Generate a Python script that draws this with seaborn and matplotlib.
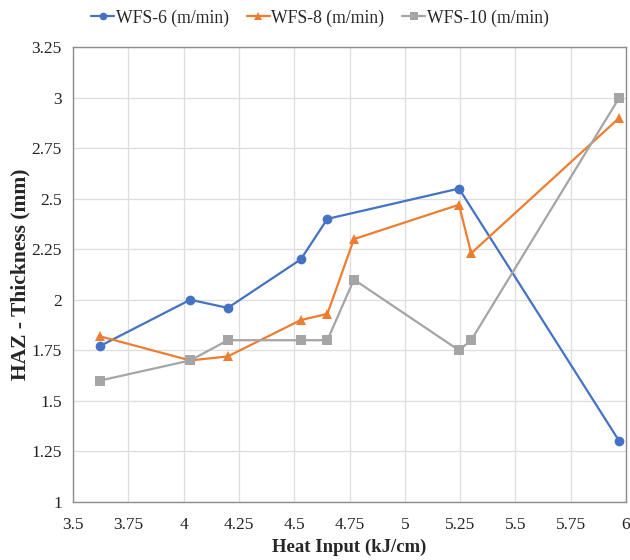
import matplotlib
matplotlib.use("Agg")
import matplotlib.pyplot as plt
import seaborn as sns
import pandas as pd

heat_6 = [3.62, 4.03, 4.20, 4.53, 4.65, 5.245, 5.97]
haz_6 = [1.77, 2.00, 1.96, 2.20, 2.40, 2.55, 1.30]
heat_8 = [3.62, 4.03, 4.20, 4.53, 4.65, 4.77, 5.245, 5.30, 5.97]
haz_8 = [1.82, 1.70, 1.72, 1.90, 1.93, 2.30, 2.47, 2.23, 2.90]
heat_10 = [3.62, 4.03, 4.20, 4.53, 4.65, 4.77, 5.245, 5.30, 5.97]
haz_10 = [1.60, 1.70, 1.80, 1.80, 1.80, 2.10, 1.75, 1.80, 3.00]
series_names = ["WFS-6 (m/min)", "WFS-8 (m/min)", "WFS-10 (m/min)"]
x_ticks = [3.5, 3.75, 4, 4.25, 4.5, 4.75, 5, 5.25, 5.5, 5.75, 6]
x_tick_labels = ["3.5", "3.75", "4", "4.25", "4.5", "4.75", "5", "5.25", "5.5", "5.75", "6"]
y_ticks = [1, 1.25, 1.5, 1.75, 2, 2.25, 2.5, 2.75, 3, 3.25]
y_tick_labels = ["1", "1.25", "1.5", "1.75", "2", "2.25", "2.5", "2.75", "3", "3.25"]

rows = []
for name, xs, ys in zip(series_names, [heat_6, heat_8, heat_10], [haz_6, haz_8, haz_10]):
    for i, (xv, yv) in enumerate(zip(xs, ys)):
        rows.append({"series": name, "heat": xv, "haz": yv, "order": i})
df = pd.DataFrame(rows)

sns.set_theme(style="white")
plt.rcParams["font.family"] = ["Liberation Serif", "DejaVu Serif"]

colors = {"WFS-6 (m/min)": "#4472C4", "WFS-8 (m/min)": "#ED7D31", "WFS-10 (m/min)": "#A5A5A5"}
markers = {"WFS-6 (m/min)": "o", "WFS-8 (m/min)": "^", "WFS-10 (m/min)": "s"}

fig = plt.figure(figsize=(6.3, 5.6), dpi=100)
ax = fig.add_axes([73/630, 58/560, 553/630, 455/560])

sns.lineplot(data=df, x="heat", y="haz", hue="series", style="series",
             hue_order=series_names, style_order=series_names,
             palette=colors, markers=markers, dashes=False,
             sort=False, estimator=None, units="series",
             markersize=7, markeredgewidth=0, linewidth=1.6, ax=ax, legend="brief")

ax.set_xlim(3.5, 6)
ax.set_ylim(1, 3.25)
ax.set_xticks(x_ticks)
ax.set_xticklabels(x_tick_labels)
ax.set_yticks(y_ticks)
ax.set_yticklabels(y_tick_labels)
ax.grid(True, color="#DDDDDD", linewidth=0.9)
ax.tick_params(axis="both", length=0, labelsize=12.5, colors="#222222")
ax.tick_params(axis="x", pad=11)
ax.tick_params(axis="y", pad=8)
for s in ax.spines.values():
    s.set_color("#8C8C8C")
    s.set_linewidth(1.0)
ax.set_xlabel("Heat Input (kJ/cm)", fontsize=13.5, fontweight="bold", labelpad=4)
ax.set_ylabel("HAZ - Thickness (mm)", fontsize=15.5, fontweight="bold", labelpad=1)

handles, labels = ax.get_legend_handles_labels()
ax.get_legend().remove()
for h in handles:
    h.set_markersize(5.5)
fig.legend(handles, labels, loc="center", bbox_to_anchor=(320/630, 1 - 18/560), ncol=3,
           frameon=False, fontsize=12.7, handlelength=1.3, handletextpad=0.1,
           columnspacing=1.0)

fig.savefig("out.png", dpi=100)
